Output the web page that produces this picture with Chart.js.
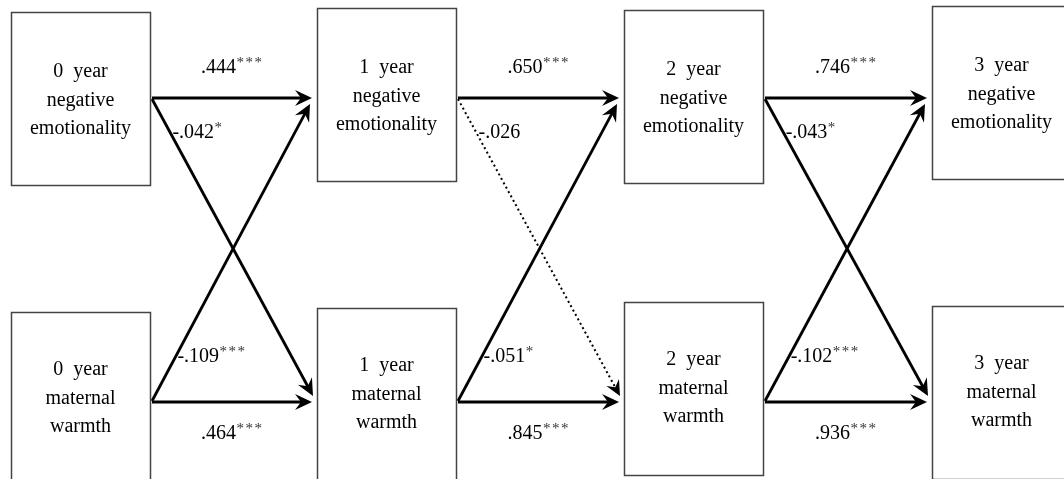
<!DOCTYPE html>
<html>
<head>
<meta charset="utf-8">
<script src="https://cdn.jsdelivr.net/npm/chart.js@4.4.1/dist/chart.umd.min.js"></script>
<style>
html, body { margin: 0; padding: 0; background: #fff; }
#wrap { width: 1064px; height: 479px; }
</style>
</head>
<body>
<div id="wrap"><canvas id="c" width="1064" height="479"></canvas></div>
<script>
const waves = ['0', '1', '2', '3'];
const constructs = [['negative', 'emotionality'], ['maternal', 'warmth']];
// autoregressive paths, wave i -> wave i+1
const stabNE = ['.444', '.650', '.746'];
const stabNEStars = ['***', '***', '***'];
const stabMW = ['.464', '.845', '.936'];
const stabMWStars = ['***', '***', '***'];
// cross-lagged paths
const crossNEtoMW = ['-.042', '-.026', '-.043'];
const crossNEtoMWStars = ['*', '', '*'];
const crossMWtoNE = ['-.109', '-.051', '-.102'];
const crossMWtoNEStars = ['***', '*', '***'];

// layout, in axis units (axes run 0..1064 and 0..479)
const boxLeft = [11, 317, 624, 932];
const boxTop = [[12, 8, 10, 6], [312, 308, 302, 306]];
const boxW = 139, boxH = 173;
const rowY = [98, 402];

const FONT = "'Liberation Serif', 'Times New Roman', serif";

// build the path list from the arrays
const paths = [];
for (let i = 0; i < 3; i++) {
    const x0 = boxLeft[i] + boxW + 2;
    const x1 = boxLeft[i + 1] - 5;
    paths.push({ from: [x0, rowY[0]], to: [x1, rowY[0]], text: stabNE[i], stars: stabNEStars[i], kind: 'top' });
    paths.push({ from: [x0, rowY[1]], to: [x1, rowY[1]], text: stabMW[i], stars: stabMWStars[i], kind: 'bottom' });
    paths.push({ from: [x0, rowY[0] + 1], to: [x1 + 1, rowY[1] - 6], text: crossNEtoMW[i], stars: crossNEtoMWStars[i], kind: 'down' });
    paths.push({ from: [x0, rowY[1] - 1], to: [x1 - 2, rowY[0] + 6], text: crossMWtoNE[i], stars: crossMWtoNEStars[i], kind: 'up' });
}

const datasets = paths.map(p => {
    const dx = p.to[0] - p.from[0], dy = p.to[1] - p.from[1];
    const len = Math.sqrt(dx * dx + dy * dy);
    const sig = p.stars !== '';
    return {
        data: [{ x: p.from[0], y: p.from[1] }, { x: p.to[0] - 6 * dx / len, y: p.to[1] - 6 * dy / len }],
        showLine: true,
        borderColor: '#000',
        borderWidth: sig ? 2.8 : 2,
        borderDash: sig ? [] : [2, 3],
        pointRadius: 0,
        fill: false
    };
});

function arrowHead(ctx, x, y, ang, s) {
    ctx.save();
    ctx.translate(x, y);
    ctx.rotate(ang);
    ctx.beginPath();
    ctx.moveTo(0, 0);
    ctx.lineTo(-17 * s, -8 * s);
    ctx.lineTo(-11 * s, 0);
    ctx.lineTo(-17 * s, 8 * s);
    ctx.closePath();
    ctx.fillStyle = '#000';
    ctx.fill();
    ctx.restore();
}

function coefLabel(ctx, text, stars, x, y, align) {
    ctx.font = '20px ' + FONT;
    const w1 = ctx.measureText(text).width;
    const w2 = stars.length * 9;
    let sx = align === 'center' ? x - (w1 + w2) / 2 : x;
    ctx.fillStyle = '#000';
    ctx.textAlign = 'left';
    ctx.textBaseline = 'middle';
    ctx.fillText(text, sx, y);
    ctx.font = '15px ' + FONT;
    ctx.fillStyle = '#333';
    for (let k = 0; k < stars.length; k++) {
        ctx.fillText('*', sx + w1 + 0.5 + k * 9, y - 5);
    }
}

const diagramPlugin = {
    id: 'diagram',
    afterDatasetsDraw(chart) {
        const ctx = chart.ctx;
        const sx = v => chart.scales.x.getPixelForValue(v);
        const sy = v => chart.scales.y.getPixelForValue(v);

        // boxes
        ctx.save();
        ctx.strokeStyle = '#444';
        ctx.lineWidth = 1.5;
        for (let r = 0; r < 2; r++) {
            for (let c = 0; c < waves.length; c++) {
                const l = sx(boxLeft[c]), t = sy(boxTop[r][c]);
                const w = sx(boxLeft[c] + boxW) - l, h = sy(boxTop[r][c] + boxH) - t;
                ctx.strokeRect(Math.round(l) + 0.5, Math.round(t) + 0.5, Math.round(w), Math.round(h));
                const lines = [waves[c] + '  year'].concat(constructs[r]);
                const cy = sy(boxTop[r][c] + boxH / 2 + (r === 0 ? 2 : 0));
                ctx.font = '20px ' + FONT;
                ctx.fillStyle = '#000';
                ctx.textAlign = 'center';
                ctx.textBaseline = 'middle';
                lines.forEach((s, k) => ctx.fillText(s, l + w / 2, cy + (k - 1) * 28.5));
            }
        }

        // arrow heads and coefficients
        paths.forEach(p => {
            const tx = sx(p.to[0]), ty = sy(p.to[1]);
            const ang = Math.atan2(ty - sy(p.from[1]), tx - sx(p.from[0]));
            arrowHead(ctx, tx, ty, ang, p.stars ? 1 : 0.9);

            if (p.kind === 'top' || p.kind === 'bottom') {
                const mx = (p.from[0] + p.to[0]) / 2;
                const ly = p.kind === 'top' ? p.from[1] - 30 : p.from[1] + 32;
                coefLabel(ctx, p.text, p.stars, sx(mx), sy(ly), 'center');
            } else {
                const ly = p.kind === 'down' ? rowY[0] + 35 : rowY[1] - 45;
                const f = (ly - p.from[1]) / (p.to[1] - p.from[1]);
                const lx = p.from[0] + f * (p.to[0] - p.from[0]) + 2;
                coefLabel(ctx, p.text, p.stars, sx(lx), sy(ly), 'left');
            }
        });
        ctx.restore();
    }
};

new Chart(document.getElementById('c'), {
    type: 'scatter',
    data: { datasets: datasets },
    options: {
        responsive: false,
        animation: false,
        devicePixelRatio: 1,
        events: [],
        layout: { padding: 0 },
        plugins: { legend: { display: false }, tooltip: { enabled: false } },
        scales: {
            x: { type: 'linear', min: 0, max: 1064, display: false },
            y: { type: 'linear', min: 0, max: 479, reverse: true, display: false }
        }
    },
    plugins: [diagramPlugin]
});
</script>
</body>
</html>
